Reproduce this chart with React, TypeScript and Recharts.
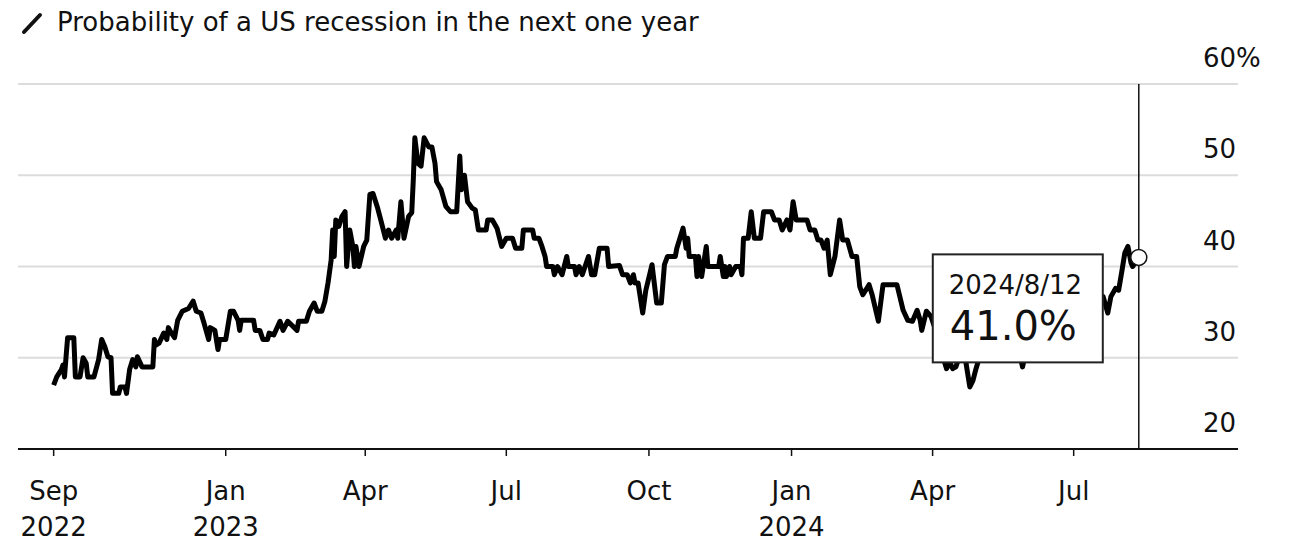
import React from 'react'
import {
  LineChart,
  Line,
  XAxis,
  YAxis,
  CartesianGrid,
  ReferenceLine,
  ReferenceDot
} from 'recharts'

// daily readings, probability in %
const dates = [
  '2022-09-12', '2022-09-14', '2022-09-17', '2022-09-18', '2022-09-19', '2022-09-20', '2022-09-21', '2022-09-25',
  '2022-09-26', '2022-09-29', '2022-10-01', '2022-10-03', '2022-10-04', '2022-10-08', '2022-10-11', '2022-10-13',
  '2022-10-15', '2022-10-17', '2022-10-19', '2022-10-20', '2022-10-24', '2022-10-25', '2022-10-28', '2022-10-29',
  '2022-10-31', '2022-11-02', '2022-11-04', '2022-11-05', '2022-11-08', '2022-11-15', '2022-11-16', '2022-11-17',
  '2022-11-19', '2022-11-22', '2022-11-24', '2022-11-25', '2022-11-27', '2022-11-29', '2022-12-01', '2022-12-04',
  '2022-12-08', '2022-12-11', '2022-12-13', '2022-12-16', '2022-12-18', '2022-12-21', '2022-12-22', '2022-12-25',
  '2022-12-27', '2022-12-28', '2023-01-01', '2023-01-04', '2023-01-06', '2023-01-09', '2023-01-10', '2023-01-11',
  '2023-01-19', '2023-01-20', '2023-01-23', '2023-01-25', '2023-01-28', '2023-01-29', '2023-02-01', '2023-02-05',
  '2023-02-07', '2023-02-10', '2023-02-16', '2023-02-17', '2023-02-22', '2023-02-24', '2023-02-27', '2023-03-01',
  '2023-03-04', '2023-03-06', '2023-03-08', '2023-03-10', '2023-03-11', '2023-03-12', '2023-03-13', '2023-03-15',
  '2023-03-17', '2023-03-19', '2023-03-20', '2023-03-22', '2023-03-24', '2023-03-25', '2023-03-26', '2023-03-28',
  '2023-03-31', '2023-04-02', '2023-04-04', '2023-04-06', '2023-04-09', '2023-04-11', '2023-04-14', '2023-04-16',
  '2023-04-18', '2023-04-21', '2023-04-22', '2023-04-24', '2023-04-26', '2023-04-29', '2023-05-01', '2023-05-02',
  '2023-05-03', '2023-05-05', '2023-05-07', '2023-05-09', '2023-05-12', '2023-05-14', '2023-05-16', '2023-05-17',
  '2023-05-20', '2023-05-23', '2023-05-26', '2023-05-30', '2023-06-01', '2023-06-02', '2023-06-04', '2023-06-06',
  '2023-06-09', '2023-06-11', '2023-06-13', '2023-06-18', '2023-06-19', '2023-06-22', '2023-06-25', '2023-06-28',
  '2023-07-01', '2023-07-05', '2023-07-07', '2023-07-11', '2023-07-12', '2023-07-18', '2023-07-19', '2023-07-22',
  '2023-07-24', '2023-07-26', '2023-07-27', '2023-07-31', '2023-08-01', '2023-08-03', '2023-08-06', '2023-08-09',
  '2023-08-10', '2023-08-14', '2023-08-15', '2023-08-17', '2023-08-19', '2023-08-23', '2023-08-25', '2023-08-27',
  '2023-08-30', '2023-09-04', '2023-09-05', '2023-09-12', '2023-09-14', '2023-09-17', '2023-09-19', '2023-09-21',
  '2023-09-22', '2023-09-24', '2023-09-27', '2023-09-29', '2023-10-03', '2023-10-06', '2023-10-09', '2023-10-11',
  '2023-10-13', '2023-10-18', '2023-10-19', '2023-10-23', '2023-10-25', '2023-10-26', '2023-10-27', '2023-10-31',
  '2023-11-01', '2023-11-02', '2023-11-04', '2023-11-07', '2023-11-08', '2023-11-15', '2023-11-16', '2023-11-18',
  '2023-11-19', '2023-11-20', '2023-11-22', '2023-11-23', '2023-11-26', '2023-11-29', '2023-11-30', '2023-12-01',
  '2023-12-04', '2023-12-06', '2023-12-08', '2023-12-12', '2023-12-14', '2023-12-19', '2023-12-21', '2023-12-24',
  '2023-12-26', '2023-12-29', '2023-12-31', '2024-01-02', '2024-01-04', '2024-01-11', '2024-01-13', '2024-01-16',
  '2024-01-18', '2024-01-20', '2024-01-22', '2024-01-24', '2024-01-26', '2024-01-29', '2024-02-01', '2024-02-03',
  '2024-02-06', '2024-02-09', '2024-02-12', '2024-02-14', '2024-02-16', '2024-02-20', '2024-02-22', '2024-02-26',
  '2024-02-29', '2024-03-09', '2024-03-13', '2024-03-16', '2024-03-19', '2024-03-22', '2024-03-24', '2024-03-25',
  '2024-03-28', '2024-03-31', '2024-04-04', '2024-04-07', '2024-04-10', '2024-04-12', '2024-04-14', '2024-04-16',
  '2024-04-19', '2024-04-22', '2024-04-25', '2024-04-27', '2024-04-29', '2024-05-02', '2024-05-06', '2024-05-11',
  '2024-05-16', '2024-05-19', '2024-05-23', '2024-05-27', '2024-05-29', '2024-05-31', '2024-06-04', '2024-06-09',
  '2024-06-14', '2024-06-19', '2024-06-25', '2024-06-30', '2024-07-05', '2024-07-10', '2024-07-15', '2024-07-20',
  '2024-07-23', '2024-07-25', '2024-07-28', '2024-07-30', '2024-08-01', '2024-08-03', '2024-08-05', '2024-08-07',
  '2024-08-08', '2024-08-12'
]

const values = [
  27.0, 27.9, 28.7, 29.2, 27.9, 30.1, 32.2, 32.2,
  27.9, 27.9, 30.0, 29.4, 27.9, 27.9, 29.8, 32.0,
  31.2, 30.1, 30.0, 26.1, 26.1, 26.8, 26.8, 26.1,
  28.7, 29.8, 29.0, 30.1, 29.0, 29.0, 32.0, 31.4,
  31.6, 32.7, 32.0, 33.3, 32.7, 32.2, 34.1, 35.1,
  35.4, 36.2, 35.1, 34.9, 33.8, 32.0, 33.3, 33.0,
  30.9, 32.0, 32.0, 35.1, 35.1, 34.1, 33.0, 34.1,
  34.1, 33.0, 33.0, 32.0, 32.0, 32.7, 32.5, 34.0,
  33.0, 34.0, 33.0, 34.0, 34.0, 35.1, 36.0, 35.1,
  35.1, 36.2, 38.2, 40.7, 44.0, 41.1, 45.1, 44.4,
  45.5, 46.0, 40.0, 44.0, 42.2, 40.0, 42.2, 40.0,
  42.2, 42.9, 47.9, 48.0, 46.4, 45.1, 43.1, 44.0,
  43.1, 44.0, 43.1, 47.1, 43.1, 45.5, 45.9, 49.5,
  54.1, 51.3, 51.0, 54.1, 53.1, 53.1, 51.3, 49.3,
  48.4, 46.6, 46.0, 46.0, 52.1, 48.4, 50.0, 47.1,
  46.4, 46.2, 44.0, 44.0, 45.1, 45.1, 44.2, 42.2,
  43.1, 43.1, 42.0, 42.0, 44.0, 44.0, 43.1, 43.1,
  42.2, 41.1, 40.0, 40.0, 39.1, 40.0, 39.1, 41.1,
  40.0, 40.0, 39.1, 40.0, 39.1, 41.1, 39.1, 39.1,
  42.0, 42.0, 40.0, 40.1, 39.1, 39.1, 38.2, 39.1,
  38.2, 38.2, 34.9, 37.4, 40.2, 36.0, 36.0, 40.2,
  41.1, 41.1, 42.0, 44.2, 42.0, 43.1, 41.1, 41.1,
  38.9, 41.1, 38.9, 42.2, 40.0, 40.0, 41.1, 38.9,
  40.0, 38.9, 40.0, 39.1, 40.0, 40.0, 39.1, 43.1,
  43.1, 46.0, 43.1, 43.1, 46.0, 46.0, 45.1, 45.1,
  44.0, 45.1, 44.0, 47.1, 45.1, 45.1, 44.0, 44.0,
  42.9, 42.9, 42.0, 42.9, 39.1, 41.1, 45.1, 42.9,
  42.9, 41.1, 41.1, 37.8, 36.9, 38.0, 36.9, 34.0,
  38.0, 38.0, 35.2, 34.1, 34.0, 35.2, 34.1, 33.0,
  35.1, 34.5, 32.5, 30.5, 28.8, 29.5, 28.8, 29.0,
  30.5, 30.0, 26.8, 27.5, 28.8, 30.5, 31.5, 31.0,
  32.0, 31.5, 30.5, 30.5, 29.0, 30.5, 31.5, 31.0,
  32.0, 32.5, 33.0, 33.5, 33.0, 34.5, 35.5, 36.7,
  34.9, 36.7, 37.6, 37.4, 39.4, 41.5, 42.2, 40.4,
  40.0, 41.0
]

const yTicks = [20, 30, 40, 50, 60]
const xTickDates = ['2022-09-12', '2023-01-01', '2023-04-01', '2023-07-01', '2023-10-01', '2024-01-01', '2024-04-01', '2024-07-01']
const xTickMonths = ['Sep', 'Jan', 'Apr', 'Jul', 'Oct', 'Jan', 'Apr', 'Jul']
const xTickYears = ['2022', '2023', '', '', '', '2024', '', '']
const xDomainDates = ['2022-08-20', '2024-10-15']

const highlightDate = '2024-08-12'
const highlightValue = 41.0

const title = 'Probability of a US recession in the next one year'

const FONT = '"DejaVu Sans", sans-serif'

const toTs = (s: string) => Date.parse(s + 'T00:00:00Z')

const data = dates.map((d, i) => ({ t: toTs(d), v: values[i] }))
const xTicks = xTickDates.map(toTs)

const XTick = (props: any) => {
  const { x, y, payload } = props
  const i = xTicks.indexOf(payload.value)
  return (
    <text x={x} y={y} textAnchor='middle' fill='#111' fontSize={26} fontFamily={FONT}>
      <tspan x={x} dy={44}>{xTickMonths[i]}</tspan>
      {xTickYears[i] && <tspan x={x} dy={36}>{xTickYears[i]}</tspan>}
    </text>
  )
}

const YTick = (props: any) => {
  const { x, y, payload } = props
  const label = payload.value === 60 ? '60%' : String(payload.value)
  return (
    <text x={x - 35} y={y - 17} textAnchor='start' fill='#111' fontSize={26} fontFamily={FONT}>
      {label}
    </text>
  )
}

// the hover box sits below-left of the highlighted point
const HighlightBox = (props: any) => {
  const vb = props.viewBox || {}
  const cx = vb.x + vb.width / 2
  const cy = vb.y + vb.height / 2
  const [yy, mm, dd] = highlightDate.split('-').map(Number)
  const bx = cx - 206
  const by = cy - 3
  return (
    <g>
      <rect x={bx} y={by} width={170} height={108} fill='#fff' stroke='#222' strokeWidth={2} />
      <text x={bx + 16} y={by + 40} fontSize={26} fontFamily={FONT} fill='#111'>
        {`${yy}/${mm}/${dd}`}
      </text>
      <text x={bx + 17} y={by + 86} fontSize={40} fontFamily={FONT} fill='#111'>
        {highlightValue.toFixed(1) + '%'}
      </text>
    </g>
  )
}

export default function App() {
  const hl = toTs(highlightDate)
  return (
    <div style={{ position: 'absolute', left: 0, top: 0, width: 1292, height: 544, background: '#fff', fontFamily: FONT }}>
      <svg width={1292} height={50} style={{ position: 'absolute', left: 0, top: 0 }}>
        <line x1={24} y1={32} x2={40} y2={15} stroke='#111' strokeWidth={4} strokeLinecap='round' />
        <text x={57} y={31} fontSize={26} fontFamily={FONT} fill='#111'>
          {title}
        </text>
      </svg>
      <div style={{ position: 'absolute', left: 0, top: 0 }}>
        <LineChart width={1292} height={544} data={data} margin={{ top: 84, right: 0, bottom: 0, left: 18 }}>
          <CartesianGrid vertical={false} stroke='#dcdcdc' strokeWidth={2} />
          <XAxis
            dataKey='t'
            type='number'
            domain={xDomainDates.map(toTs)}
            ticks={xTicks}
            allowDataOverflow
            height={95}
            tickSize={7}
            tickMargin={0}
            axisLine={{ stroke: '#111', strokeWidth: 2 }}
            tickLine={{ stroke: '#111', strokeWidth: 1.5 }}
            tick={<XTick />}
            interval={0}
          />
          <YAxis
            orientation='right'
            domain={[20, 60]}
            ticks={yTicks}
            width={54}
            axisLine={false}
            tickLine={false}
            tickSize={0}
            tickMargin={0}
            tick={<YTick />}
            interval={0}
          />
          <ReferenceLine x={hl} stroke='#111' strokeWidth={1.5} />
          <Line
            dataKey='v'
            type='linear'
            stroke='#000'
            strokeWidth={5}
            strokeLinejoin='round'
            dot={false}
            isAnimationActive={false}
          />
          <ReferenceDot
            x={hl}
            y={highlightValue}
            r={8}
            fill='#fff'
            stroke='#111'
            strokeWidth={1.5}
            label={<HighlightBox />}
          />
        </LineChart>
      </div>
    </div>
  )
}
